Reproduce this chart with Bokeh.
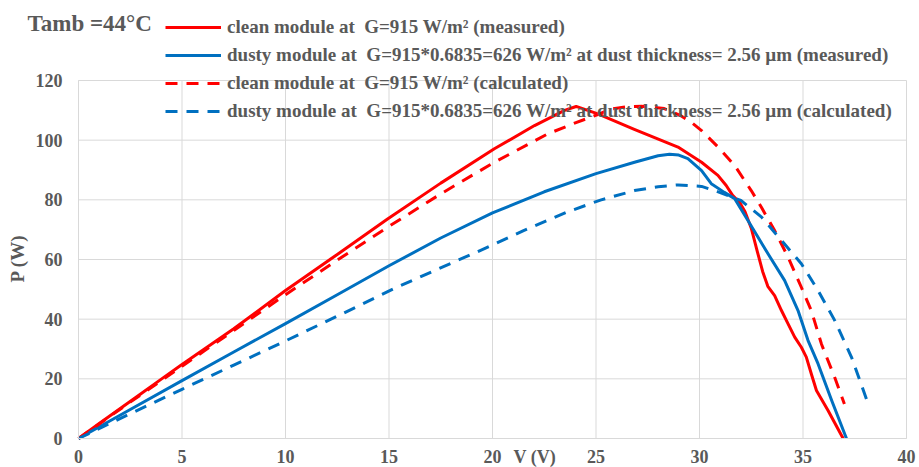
import math
from bokeh.plotting import figure
from bokeh.models import Legend, LegendItem, Label, FixedTicker, LinearAxis, Range1d
from bokeh.embed import file_html
from bokeh.resources import INLINE

# ---- data ----
v_clean_meas = [0, 1, 2, 3, 4, 4.93, 7.5, 10.0, 12.5, 14.93, 17.5, 20.09, 22.03, 23.48, 24.04, 25.09,
                26.85, 28.96, 30.1, 30.89, 31.29, 31.6, 31.95, 32.2, 32.5, 32.8, 33.05, 33.3, 33.63,
                33.96, 34.28, 34.6, 34.92, 35.16, 35.4, 35.65, 36.21, 36.94]
p_clean_meas = [0, 5.0, 10.0, 14.9, 19.9, 24.5, 36.8, 49.6, 61.7, 73.6, 85.6, 97.1, 104.9, 110.0, 111.3, 108.8,
                103.6, 97.7, 92.6, 88.2, 84.8, 81.5, 79.0, 76.0, 70.5, 62.5, 56.0, 51.0, 47.9,
                42.9, 38.4, 34.0, 30.6, 27.3, 21.7, 16.1, 9.4, 0]

v_dusty_meas = [0, 2.5, 5, 7.5, 10, 12.5, 15, 17.5, 20, 22.5, 25, 26.86, 28.0, 28.55, 29.0,
                29.44, 30.1, 30.57, 31.2, 31.7, 32.34, 33.31, 34.11, 34.76, 35.24, 35.73, 36.4, 37.1]
p_dusty_meas = [0, 9.7, 19.4, 29.0, 38.5, 48.2, 57.9, 67.2, 75.6, 82.7, 88.8, 92.6, 94.8, 95.3, 95.0,
                93.8, 89.8, 85.4, 82.5, 80.4, 73.1, 61.9, 53.0, 42.9, 32.9, 25.0, 12.5, 0]

v_clean_calc = [0, 2.5, 5, 7.5, 10, 12.5, 14.93, 17.5, 20.09, 22.67, 24.0, 25.09, 25.7, 26.5, 27.2, 28.3,
                29.1, 29.6, 30.1, 30.9, 31.7, 32.5, 32.99, 33.63, 34.28, 34.92, 35.4, 35.89, 36.53, 37.0]
p_clean_calc = [0, 12.2, 24.2, 36.2, 48.2, 59.8, 70.8, 82.0, 92.6, 102.1, 105.8, 108.6, 110.4, 111.2, 111.4, 110.6,
                108.2, 106.0, 103.2, 97.7, 91.5, 83.1, 77.5, 69.7, 60.8, 50.7, 42.9, 31.7, 20.5, 11.6]

v_dusty_calc = [0, 2.5, 5, 7.5, 10.09, 12.5, 15.26, 17.2, 19.4, 21.5, 23.6, 25.25, 26.86, 28.0, 28.96, 30.1,
                30.73, 32.0, 33.0, 33.96, 34.92, 35.73, 36.53, 37.34, 38.15]
p_dusty_calc = [0, 8.3, 16.5, 24.6, 33.0, 41.0, 50.3, 56.3, 63.0, 69.7, 75.9, 80.0, 83.1, 84.4, 85.0, 84.5,
                83.1, 79.8, 74.2, 66.4, 58.6, 49.6, 39.6, 27.3, 11.6]

x_ticks = [0, 5, 10, 15, 20, 25, 30, 35, 40]
y_ticks = [0, 20, 40, 60, 80, 100, 120]

labels = [
    "clean module at  G=915 W/m² (measured)",
    "dusty module at  G=915*0.6835=626 W/m² at dust thickness= 2.56 µm (measured)",
    "clean module at  G=915 W/m² (calculated)",
    "dusty module at  G=915*0.6835=626 W/m² at dust thickness= 2.56 µm (calculated)",
]

RED = "#FF0000"
BLUE = "#0070C0"
GREY = "#595959"
GRID = "#D9D9D9"
FONT = "Liberation Serif"

W, H = 919, 467
# plot area inside the canvas (pixels): left 78, right 906, top 80, bottom 438
PX_L, PX_R, PX_T, PX_B = 78, 906, 80, 438
XMIN, XMAX = x_ticks[0], x_ticks[-1]
YMIN, YMAX = y_ticks[0], y_ticks[-1]
xs = (XMAX - XMIN) / (PX_R - PX_L)
ys = (YMAX - YMIN) / (PX_B - PX_T)
x_range = Range1d(XMIN - PX_L * xs, XMAX + (W - PX_R) * xs)
y_range = Range1d(YMIN - (H - PX_B) * ys, YMAX + PX_T * ys)

p = figure(width=W, height=H, output_backend="svg", toolbar_location=None,
           x_range=x_range, y_range=y_range, x_axis_location=None, y_axis_location=None,
           min_border_left=0, min_border_right=0, min_border_top=0, min_border_bottom=0)
p.outline_line_color = None
p.background_fill_color = "white"
p.border_fill_color = "white"
p.xgrid.visible = False
p.ygrid.visible = False

# grid lines inside the plot area
p.segment(x0=x_ticks, y0=[YMIN] * len(x_ticks), x1=x_ticks, y1=[YMAX] * len(x_ticks),
          line_color=GRID, line_width=1)
p.segment(x0=[XMIN] * len(y_ticks), y0=y_ticks, x1=[XMAX] * len(y_ticks), y1=y_ticks,
          line_color=GRID, line_width=1)

xaxis = LinearAxis(fixed_location=0, bounds=(XMIN, XMAX), ticker=FixedTicker(ticks=x_ticks))
yaxis = LinearAxis(fixed_location=0, bounds=(YMIN, YMAX), ticker=FixedTicker(ticks=y_ticks))
for ax in (xaxis, yaxis):
    ax.major_tick_line_color = None
    ax.minor_tick_line_color = None
    ax.major_tick_out = 0
    ax.major_tick_in = 0
    ax.axis_line_color = GRID
    ax.major_label_text_font = FONT
    ax.major_label_text_font_style = "bold"
    ax.major_label_text_font_size = "18px"
    ax.major_label_text_color = GREY
xaxis.major_label_standoff = 11
yaxis.major_label_standoff = 16
p.add_layout(xaxis, "below")
p.add_layout(yaxis, "left")

r1 = p.line(v_clean_meas, p_clean_meas, line_color=RED, line_width=3, line_join="round")
r2 = p.line(v_dusty_meas, p_dusty_meas, line_color=BLUE, line_width=3, line_join="round")
r3 = p.line(v_clean_calc, p_clean_calc, line_color=RED, line_width=3, line_dash="12 9", line_join="round")
r4 = p.line(v_dusty_calc, p_dusty_calc, line_color=BLUE, line_width=3, line_dash="12 9", line_join="round")

legend = Legend(items=[LegendItem(label=l, renderers=[r]) for l, r in zip(labels, [r1, r2, r3, r4])],
                location=(165, 345), orientation="vertical",
                glyph_width=56, glyph_height=20, label_height=20, label_standoff=6, spacing=6,
                padding=0, margin=0, border_line_color=None, background_fill_alpha=0,
                label_text_font=FONT, label_text_font_style="bold", label_text_font_size="19px",
                label_text_color=GREY)
p.add_layout(legend, "center")

p.add_layout(Label(x=27, y=H - 23, x_units="screen", y_units="screen", text="Tamb =44°C",
                   text_font=FONT, text_font_style="bold", text_font_size="23px",
                   text_color=GREY, text_baseline="middle", text_align="left"))
p.add_layout(Label(x=513, y=H - 456, x_units="screen", y_units="screen", text="V (V)",
                   text_font=FONT, text_font_style="bold", text_font_size="18px",
                   text_color=GREY, text_baseline="middle", text_align="left"))
p.add_layout(Label(x=17, y=H - 258, x_units="screen", y_units="screen", text="P (W)", angle=math.pi / 2,
                   text_font=FONT, text_font_style="bold", text_font_size="19px",
                   text_color=GREY, text_baseline="middle", text_align="center"))

open("out.html", "w").write(file_html(p, INLINE))
